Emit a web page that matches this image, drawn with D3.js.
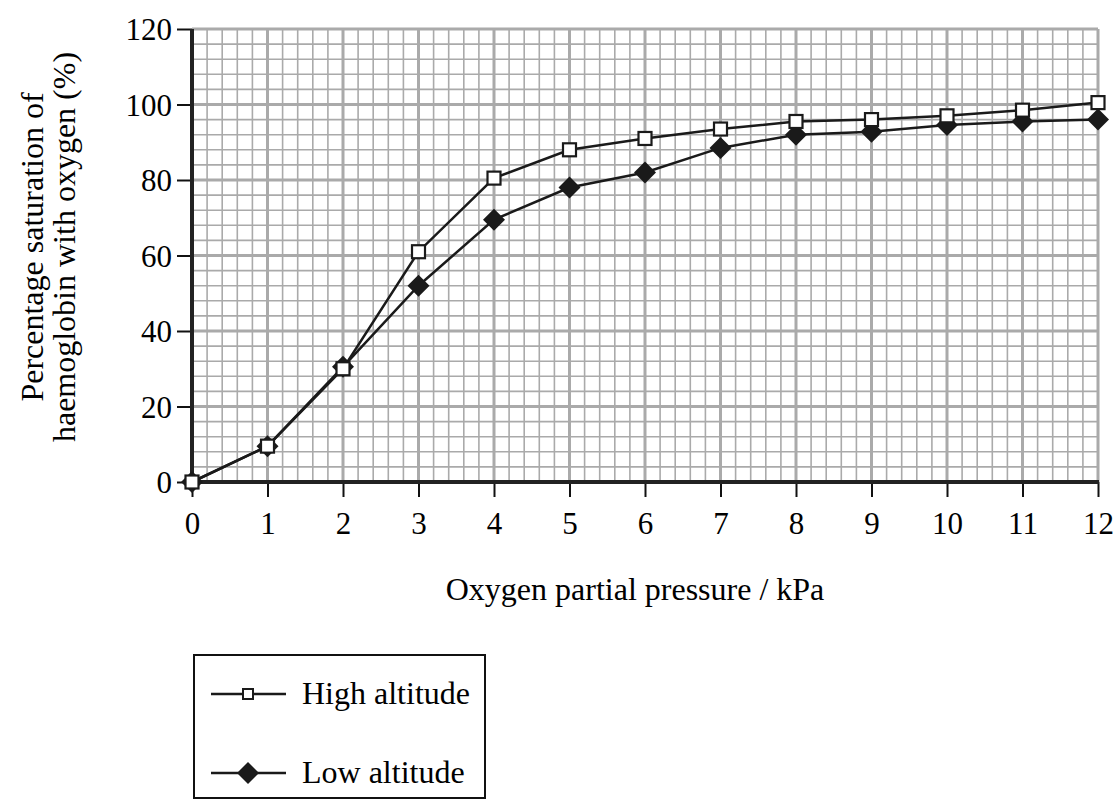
<!DOCTYPE html>
<html>
<head>
<meta charset="utf-8">
<script src="https://cdn.jsdelivr.net/npm/d3@7"></script>
</head>
<body style="margin:0">
<svg id="chart" width="1120" height="812" style="font-family: Liberation Serif"></svg>
<script>
// data
const pressure = [0, 1, 2, 3, 4, 5, 6, 7, 8, 9, 10, 11, 12];
const highAltitude = [0, 9.5, 30, 61, 80.5, 88, 91, 93.5, 95.5, 96, 97, 98.5, 100.5];
const lowAltitude = [0, 9.5, 30.5, 52, 69.5, 78, 82, 88.5, 92, 92.8, 94.6, 95.5, 96];
const xTicks = [0, 1, 2, 3, 4, 5, 6, 7, 8, 9, 10, 11, 12];
const yTicks = [0, 20, 40, 60, 80, 100, 120];
const legendLabels = ["High altitude", "Low altitude"];

const serif = "Liberation Serif";

const svg = d3.select("#chart");
const margin = { top: 29, left: 192, right: 22, bottom: 330 };
const width = 1098 - margin.left;
const height = 482 - margin.top;

const g = svg.append("g").attr("transform", `translate(${margin.left},${margin.top})`);

const x = d3.scaleLinear().domain([0, 12]).range([0, width]);
const y = d3.scaleLinear().domain([0, 120]).range([height, 0]);

// graph paper grid
const gridColor = "#aaaaaa";
const minorX = d3.range(0, 12.001, 0.2).filter(v => Math.abs(v - Math.round(v)) > 0.01);
const minorY = d3.range(0, 120.001, 4).filter(v => v % 20 !== 0);

g.selectAll(".minor-x").data(minorX).enter().append("line")
    .attr("x1", d => x(d)).attr("x2", d => x(d))
    .attr("y1", 0).attr("y2", height)
    .attr("stroke", gridColor).attr("stroke-width", 1.6);
g.selectAll(".minor-y").data(minorY).enter().append("line")
    .attr("y1", d => y(d)).attr("y2", d => y(d))
    .attr("x1", 0).attr("x2", width)
    .attr("stroke", gridColor).attr("stroke-width", 1.6);
g.selectAll(".major-x").data(xTicks).enter().append("line")
    .attr("x1", d => x(d)).attr("x2", d => x(d))
    .attr("y1", 0).attr("y2", height)
    .attr("stroke", gridColor).attr("stroke-width", 3);
g.selectAll(".major-y").data(yTicks).enter().append("line")
    .attr("y1", d => y(d)).attr("y2", d => y(d))
    .attr("x1", 0).attr("x2", width)
    .attr("stroke", gridColor).attr("stroke-width", 3);

// axes
const xAxis = d3.axisBottom(x).tickValues(xTicks).tickSize(15);
const yAxis = d3.axisLeft(y).tickValues(yTicks).tickSize(15).tickPadding(5);

const gx = g.append("g").attr("transform", `translate(0,${height})`).call(xAxis);
const gy = g.append("g").call(yAxis);

[gx, gy].forEach(a => {
    a.attr("font-family", serif).attr("font-size", 31);
    a.select(".domain").remove();
    a.selectAll(".tick line").attr("stroke", "#111").attr("stroke-width", 2);
    a.selectAll(".tick text")
        .style("font-family", serif)
        .attr("fill", "black");
});
gx.selectAll(".tick text").attr("y", 52).attr("dy", 0);
gy.selectAll(".tick text").attr("dy", "0.34em");

g.append("line").attr("x1", 0).attr("x2", 0).attr("y1", 0).attr("y2", height)
    .attr("stroke", "#222").attr("stroke-width", 4);
g.append("line").attr("x1", -1).attr("x2", width + 1).attr("y1", height).attr("y2", height)
    .attr("stroke", "#222").attr("stroke-width", 4);

// axis titles
svg.append("text")
    .attr("x", 635).attr("y", 600)
    .attr("text-anchor", "middle")
    .attr("font-family", serif).attr("font-size", 32)
    .style("font-family", serif)
    .text("Oxygen partial pressure / kPa");

const yTitle = svg.append("text")
    .attr("transform", "translate(0,247) rotate(-90)")
    .attr("text-anchor", "middle")
    .attr("font-family", serif).attr("font-size", 32)
    .style("font-family", serif);
yTitle.append("tspan").attr("x", 0).attr("y", 43).text("Percentage saturation of");
yTitle.append("tspan").attr("x", 0).attr("y", 75).text("haemoglobin with oxygen (%)");

// series
const line = d3.line().x((d, i) => x(pressure[i])).y(d => y(d));
const diamond = s => `M0,${-s}L${s},0L0,${s}L${-s},0Z`;

g.append("path").datum(lowAltitude)
    .attr("fill", "none").attr("stroke", "#1a1a1a").attr("stroke-width", 2.5)
    .attr("d", line);
g.append("path").datum(highAltitude)
    .attr("fill", "none").attr("stroke", "#1a1a1a").attr("stroke-width", 2.5)
    .attr("d", line);

g.selectAll(".low").data(lowAltitude).enter().append("path")
    .attr("transform", (d, i) => `translate(${x(pressure[i])},${y(d)})`)
    .attr("d", diamond(11))
    .attr("fill", "#1a1a1a");

g.selectAll(".high").data(highAltitude).enter().append("rect")
    .attr("x", (d, i) => x(pressure[i]) - 6.5)
    .attr("y", d => y(d) - 6.5)
    .attr("width", 13).attr("height", 13)
    .attr("fill", "#fff").attr("stroke", "#1a1a1a").attr("stroke-width", 2.2);

// legend
const legend = svg.append("g").attr("transform", "translate(194,655)");
legend.append("rect")
    .attr("width", 291).attr("height", 143)
    .attr("fill", "none").attr("stroke", "#111").attr("stroke-width", 2);

legendLabels.forEach((label, i) => {
    const cy = 39 + i * 79;
    legend.append("line")
        .attr("x1", 17).attr("x2", 92).attr("y1", cy).attr("y2", cy)
        .attr("stroke", "#1a1a1a").attr("stroke-width", 2.5);
    if (i === 0) {
        legend.append("rect")
            .attr("x", 49).attr("y", cy - 5).attr("width", 10).attr("height", 10)
            .attr("fill", "#fff").attr("stroke", "#1a1a1a").attr("stroke-width", 2);
    } else {
        legend.append("path")
            .attr("transform", `translate(54,${cy})`)
            .attr("d", diamond(11))
            .attr("fill", "#1a1a1a");
    }
    legend.append("text")
        .attr("x", 108).attr("y", cy + 10)
        .attr("font-family", serif).attr("font-size", 32)
        .style("font-family", serif)
        .text(label);
});
</script>
</body>
</html>
